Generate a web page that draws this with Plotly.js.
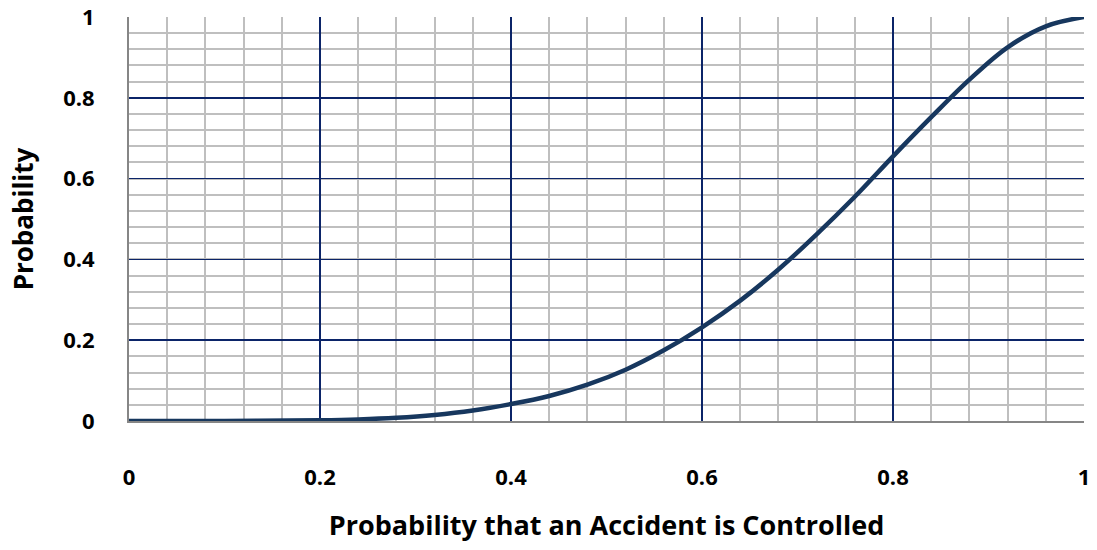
<!DOCTYPE html>
<html>
<head>
<meta charset="utf-8">
<script src="https://cdn.plot.ly/plotly-3.0.1.min.js"></script>
<style>html,body{margin:0;padding:0;background:#fff}#chart{width:1097px;height:550px}</style>
</head>
<body>
<div id="chart"></div>
<script>
var xValues = [0, 0.1, 0.2, 0.24, 0.28, 0.32, 0.36, 0.4, 0.44, 0.48, 0.52, 0.56, 0.6, 0.64, 0.68, 0.72, 0.76, 0.8, 0.84, 0.88, 0.92, 0.96, 1];
var yValues = [0, 0.0001, 0.002, 0.004, 0.008, 0.015, 0.026, 0.042, 0.062, 0.09, 0.127, 0.175, 0.232, 0.298, 0.375, 0.462, 0.555, 0.655, 0.752, 0.845, 0.925, 0.977, 1];
var tickVals = [0, 0.2, 0.4, 0.6, 0.8, 1];
var tickText = ['0', '0.2', '0.4', '0.6', '0.8', '1'];
var xTitle = 'Probability that an Accident is Controlled';
var yTitle = 'Probability';

var fontFam = '"Open Sans", sans-serif';
var navy = '#0b2468';
var gray = '#bfbfbf';

var trace = {
  x: xValues, y: yValues, type: 'scatter', mode: 'lines',
  line: {color: '#17375e', width: 4.5, shape: 'spline', smoothing: 1},
  cliponaxis: false, hoverinfo: 'skip'
};

var axisCommon = {
  range: [0, 1], tickmode: 'array', tickvals: tickVals, ticktext: tickText,
  showgrid: true, gridcolor: navy, gridwidth: 1.5,
  minor: {dtick: 0.04, showgrid: true, gridcolor: gray, gridwidth: 2},
  zeroline: false, showline: true, linecolor: '#868686', linewidth: 2,
  ticks: '', tickfont: {family: fontFam, size: 22, color: '#000', weight: 700},
  ticklabeloverflow: 'allow',
  fixedrange: true
};

var layout = {
  width: 1097, height: 550,
  margin: {l: 129, r: 13, t: 17, b: 129},
  paper_bgcolor: '#fff', plot_bgcolor: '#fff',
  showlegend: false,
  xaxis: Object.assign({}, axisCommon, {
    ticklabelstandoff: 36,
    title: {text: xTitle, font: {family: fontFam, size: 27, color: '#000', weight: 700}, standoff: 26}
  }),
  yaxis: Object.assign({}, axisCommon, {
    ticklabelstandoff: 28,
    title: {text: yTitle, font: {family: fontFam, size: 26, color: '#000', weight: 700}, standoff: 22}
  })
};

Plotly.newPlot('chart', [trace], layout, {displayModeBar: false, staticPlot: true});
</script>
</body>
</html>
